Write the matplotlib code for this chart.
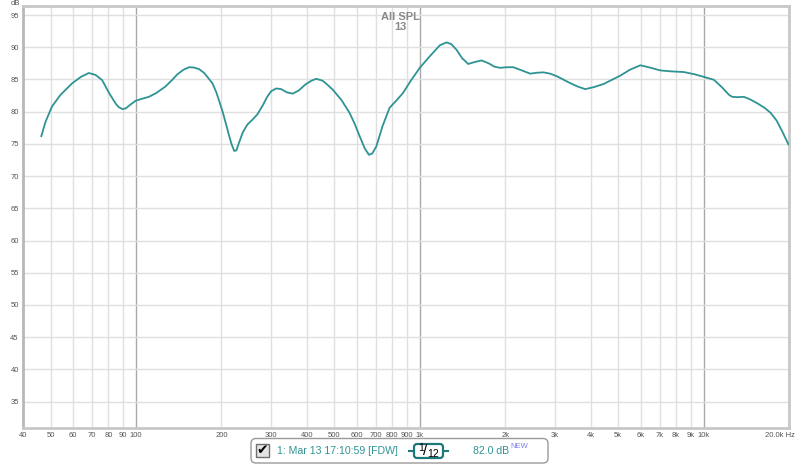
import matplotlib
matplotlib.use('Agg')
import matplotlib.pyplot as plt
import matplotlib.transforms as mtransforms
from matplotlib.patches import FancyBboxPatch, Rectangle
from matplotlib.ticker import FixedLocator

plt.rcParams['font.family'] = ['Liberation Sans', 'DejaVu Sans']

# SPL curve (Hz, dB)
freq = [46.4, 48, 50.6, 54.2, 59.6, 64, 68.2, 72.1, 76, 80.4, 85, 87, 89.5, 92, 95,
        99.8, 105, 111, 118, 127, 134, 140, 147, 154, 160, 167, 174, 180, 186, 192, 197,
        202, 207, 212, 217, 222, 226, 230, 238, 247, 258, 268, 280, 290, 300, 312, 325,
        340, 357, 375, 395, 415, 432, 455, 475, 494, 530, 566, 590, 614, 640, 662, 680,
        703, 740, 783, 830, 873, 930, 1000, 1080, 1177, 1242, 1290, 1348, 1410, 1482,
        1560, 1652, 1750, 1830, 1918, 2030, 2137, 2290, 2448, 2600, 2729, 2880, 3041,
        3400, 3600, 3828, 4100, 4446, 5091, 5500, 5987, 6400, 7045, 7700, 8519, 9300,
        10020, 10870, 11600, 12300, 12620, 13200, 13870, 14600, 15460, 16400, 17240,
        18100, 18900, 19920]
spl = [76.2, 78.4, 80.8, 82.6, 84.4, 85.4, 86.0, 85.7, 84.9, 82.9, 81.2, 80.7, 80.4, 80.5,
       81.0, 81.7, 82.0, 82.3, 82.9, 83.9, 84.9, 85.8, 86.5, 86.9, 86.85, 86.6, 86.0, 85.2,
       84.4, 83.0, 81.5, 80.0, 78.3, 76.6, 75.0, 73.9, 74.0, 75.0, 76.8, 78.0, 78.8, 79.6,
       81.0, 82.3, 83.2, 83.6, 83.5, 83.0, 82.8, 83.3, 84.2, 84.8, 85.1, 84.8, 84.1, 83.4,
       81.8, 79.8, 78.1, 76.2, 74.3, 73.3, 73.5, 74.6, 77.8, 80.6, 81.8, 82.9, 84.8, 86.8,
       88.5, 90.3, 90.75, 90.5, 89.6, 88.3, 87.4, 87.7, 87.95, 87.5, 87.0, 86.8, 86.9,
       86.9, 86.4, 85.9, 86.05, 86.1, 85.9, 85.5, 84.4, 83.9, 83.5, 83.8, 84.3, 85.6, 86.5,
       87.2, 86.9, 86.4, 86.25, 86.15, 85.8, 85.4, 84.95, 83.8, 82.6, 82.3, 82.25, 82.3,
       81.9, 81.3, 80.6, 79.8, 78.6, 77.0, 74.9]

y_ticks = [35, 40, 45, 50, 55, 60, 65, 70, 75, 80, 85, 90, 95]
x_ticks = [40, 50, 60, 70, 80, 90, 100, 200, 300, 400, 500, 600, 700, 800, 900,
           1000, 2000, 3000, 4000, 5000, 6000, 7000, 8000, 9000, 10000, 20000]
x_labels = ['40', '50', '60', '70', '80', '90', '100', '200', '300', '400', '500', '600',
            '700', '800', '900', '1k', '2k', '3k', '4k', '5k', '6k', '7k', '8k', '9k',
            '10k', '20.0k Hz']
major_f = [100, 1000, 10000]

teal = '#2f9393'
W, H = 800, 466

fig = plt.figure(figsize=(8, 4.66), dpi=100, facecolor='white')
ax = fig.add_axes([23 / W, 1 - 428 / H, (789 - 23) / W, (428 - 6) / H])
ax.set_xscale('log')
ax.set_xlim(40, 20000)
ax.set_ylim(30.9, 96.4)

# grid
for f in x_ticks[1:-1]:
    if f in major_f:
        ax.axvline(f, color='#a9a9a9', lw=1.0, zorder=1)
    else:
        ax.axvline(f, color='#e0e0e0', lw=1.0, zorder=1)
for v in y_ticks:
    ax.axhline(v, color='#e0e0e0', lw=1.0, zorder=1)

ax.plot(freq, spl, color=teal, lw=1.3, zorder=3, solid_joinstyle='round')

ax.xaxis.set_major_locator(FixedLocator(x_ticks))
ax.set_xticks([], minor=True)
ax.set_xticklabels(x_labels)
ax.set_yticks(y_ticks)
ax.set_yticklabels([str(v) for v in y_ticks])
ax.tick_params(length=0, labelsize=5.5, labelcolor='#555555', pad=3)
last = ax.get_xticklabels()[-1]
last.set_ha('right')
last.set_transform(last.get_transform() +
                   mtransforms.ScaledTranslation(6 / 100, 0, fig.dpi_scale_trans))
for s in ax.spines.values():
    s.set_color('#c8c8c8')
    s.set_linewidth(2)
ax.spines['left'].set_color('#b8b8b8')

ax.text((400 - 23) / (789 - 23), 0.985, 'All SPL\n13',
        transform=ax.transAxes, ha='center', va='top', fontsize=8, fontweight='bold',
        color='#8a8a8a', linespacing=0.95)

# overlay in pixel coordinates for the header and the legend strip
ov = fig.add_axes([0, 0, 1, 1], facecolor='none')
ov.set_xlim(0, W)
ov.set_ylim(H, 0)
ov.axis('off')
ov.text(20, 3.5, 'dB', ha='right', va='center', fontsize=5.5, color='#555555')

ov.add_patch(FancyBboxPatch((251, 438.5), 297, 24.5, boxstyle='round,pad=0,rounding_size=5',
                            fc='white', ec='#9a9a9a', lw=1.0))
ov.add_patch(Rectangle((256, 444), 13, 13, fc='#e4e4e4', ec='#707070', lw=1.0))
ov.text(262.5, 450.5, '✔', ha='center', va='center', fontsize=10, color='black',
        family='DejaVu Sans')
ov.text(277, 451.5, '1: Mar 13 17:10:59 [FDW]', ha='left', va='center', fontsize=7.6,
        color=teal)
ov.plot([409, 414], [451, 451], color='#1e7a7a', lw=1.5)
ov.plot([443, 448], [451, 451], color='#1e7a7a', lw=1.5)
ov.add_patch(FancyBboxPatch((414, 444), 29, 14, boxstyle='round,pad=0,rounding_size=3',
                            fc='white', ec='#1e7a7a', lw=1.6))
ov.text(421, 448, '1', ha='center', va='center', fontsize=7.5, color='black')
ov.text(425, 451, '/', ha='center', va='center', fontsize=11, color='black')
ov.text(433, 454, '12', ha='center', va='center', fontsize=7.5, color='black')
ov.text(473, 451.5, '82.0 dB', ha='left', va='center', fontsize=7.6, color=teal)
ov.text(510, 446, 'NEW', ha='left', va='center', fontsize=5.5, color='#7b7bee')

fig.savefig('out.png', dpi=100, facecolor='white')
